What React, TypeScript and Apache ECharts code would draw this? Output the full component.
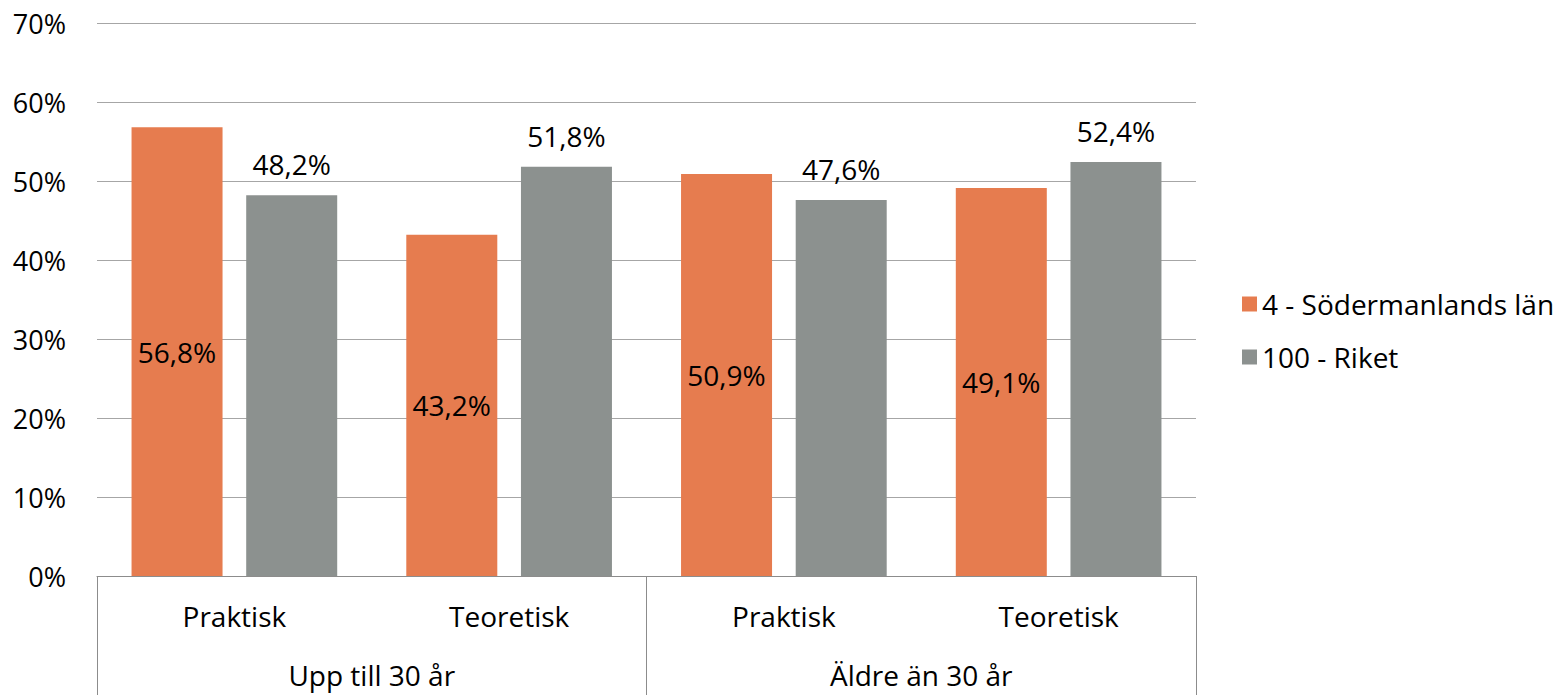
import React, { useEffect, useRef } from "react";
import * as echarts from "echarts";

const subCategories = ["Praktisk", "Teoretisk", "Praktisk", "Teoretisk"];
const groupCategories = ["Upp till 30 år", "Äldre än 30 år"];
const seriesNames = ["4 - Södermanlands län", "100 - Riket"];
const sodermanland = [56.8, 43.2, 50.9, 49.1];
const riket = [48.2, 51.8, 47.6, 52.4];
const yTicks = [0, 10, 20, 30, 40, 50, 60, 70];

const FONT = "Open Sans";
const FS = 28;
const fmt = (v: number) => v.toFixed(1).replace(".", ",") + "%";

export default function App() {
  const ref = useRef<HTMLDivElement>(null);
  useEffect(() => {
    const chart = echarts.init(ref.current!, null, { renderer: "svg" });
    chart.setOption({
      animation: false,
      textStyle: { fontFamily: FONT },
      grid: { left: 97, right: 362, top: 23, bottom: 119 },
      legend: {
        orient: "vertical",
        left: 1237,
        top: 285,
        itemWidth: 15,
        itemHeight: 15,
        itemGap: 25,
        icon: "rect",
        textStyle: { fontSize: FS, color: "#000", fontFamily: FONT },
        data: seriesNames,
      },
      xAxis: [
        {
          type: "category",
          data: subCategories,
          position: "bottom",
          axisLine: { show: true, lineStyle: { color: "#8C8C8C", width: 1 } },
          axisTick: { show: false },
          axisLabel: { fontSize: FS, color: "#000", margin: 26, fontFamily: FONT },
        },
        {
          type: "category",
          data: groupCategories,
          position: "bottom",
          axisLine: { show: false },
          axisTick: { show: true, length: 125, lineStyle: { color: "#8C8C8C" } },
          axisLabel: { fontSize: FS, color: "#000", margin: 85, fontFamily: FONT },
        },
      ],
      yAxis: {
        type: "value",
        min: 0,
        max: yTicks[yTicks.length - 1],
        interval: 10,
        axisLine: { show: false },
        axisTick: { show: false },
        splitLine: { lineStyle: { color: "#A6A6A6", width: 1 } },
        axisLabel: {
          fontSize: 27,
          color: "#000",
          margin: 31,
          fontFamily: FONT,
          formatter: (v: number) => v + "%",
        },
      },
      series: [
        {
          name: seriesNames[0],
          type: "bar",
          data: sodermanland,
          barWidth: 91,
          barGap: "26%",
          itemStyle: { color: "#E67C4F" },
          label: {
            show: true,
            position: "inside",
            fontSize: FS,
            color: "#000",
            fontFamily: FONT,
            formatter: (p: any) => fmt(p.value),
          },
        },
        {
          name: seriesNames[1],
          type: "bar",
          data: riket,
          barWidth: 91,
          itemStyle: { color: "#8C918F" },
          label: {
            show: true,
            position: "top",
            distance: 17,
            fontSize: FS,
            color: "#000",
            fontFamily: FONT,
            formatter: (p: any) => fmt(p.value),
          },
        },
      ],
    });
    return () => chart.dispose();
  }, []);
  return (
    <div
      ref={ref}
      style={{ position: "fixed", left: 0, top: 0, width: 1558, height: 695, background: "#fff" }}
    />
  );
}
